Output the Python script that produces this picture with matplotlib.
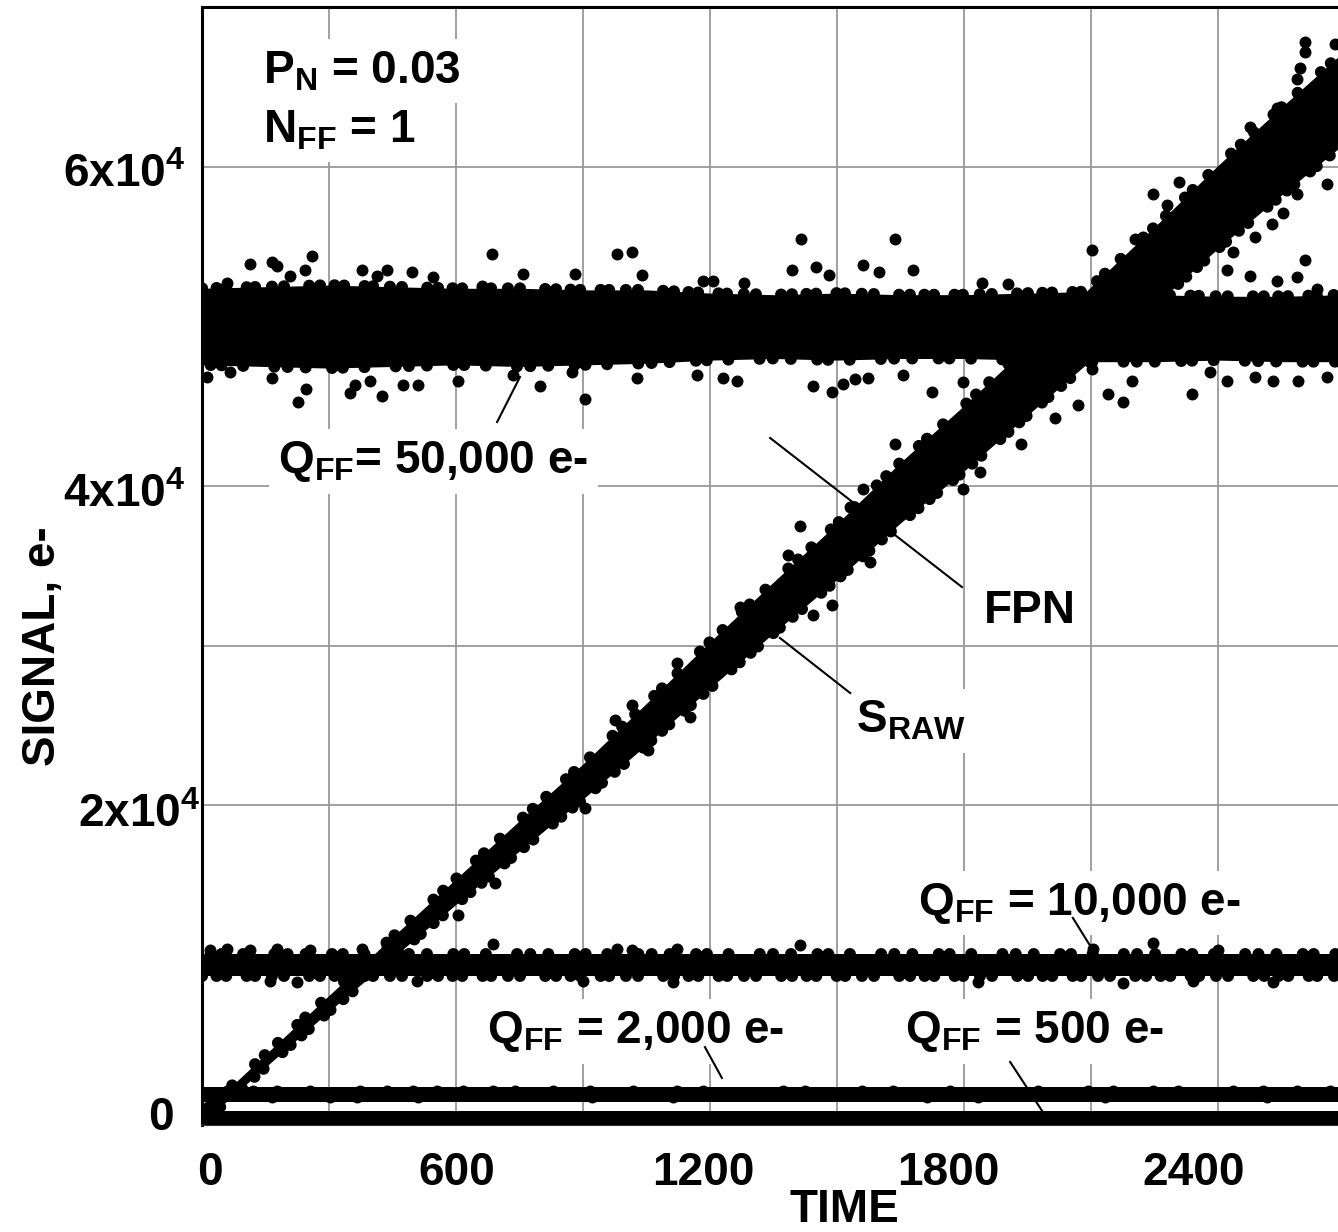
import matplotlib
matplotlib.use("Agg")
import matplotlib.pyplot as plt
import matplotlib.transforms as mtransforms
import numpy as np

plt.rcParams['font.family'] = ['Liberation Sans', 'DejaVu Sans']
plt.rcParams['font.weight'] = 'bold'
plt.rcParams['mathtext.fontset'] = 'custom'
plt.rcParams['mathtext.rm'] = 'Liberation Sans:bold'
plt.rcParams['mathtext.bf'] = 'Liberation Sans:bold'
plt.rcParams['mathtext.it'] = 'Liberation Sans:bold'

# ---- data (time, signal in e-) ----
# S_RAW band: centre and visual half-width of the dense core
t_raw = [0, 150, 300, 450, 600, 750, 900, 1050, 1200, 1350, 1500, 1650, 1800,
         1950, 2100, 2250, 2400, 2550, 2700]
raw_mid = [400, 4000, 7600, 11100, 14600, 18100, 21500, 25100, 28800, 32400,
           35900, 39600, 43000, 46600, 50200, 53800, 57500, 61000, 64400]
raw_half = [300, 400, 500, 650, 800, 950, 1100, 1300, 1450, 1600, 1750, 1900,
            2050, 2150, 2300, 2450, 2600, 2750, 2900]
raw_out_t = [1122, 1016, 976, 905, 692, 605, 1053, 1153, 496, 437, 1412, 1637,
             1562, 1797, 1838, 1934, 2015, 2069, 1578, 1488, 1443, 1271, 1384,
             1531, 2605, 2605, 2676, 2593, 2586, 2539, 2475, 2308, 2246, 2279,
             2204, 2102, 2553, 2527, 2487, 2657, 2586, 2435]
raw_out_v = [28920, 26290, 25350, 19840, 15140, 13140, 23460, 25530, 12700,
             11130, 37500, 42650, 39830, 39830, 40900, 42650, 44280, 45100,
             35250, 32550, 31930, 32430, 35690, 38700, 67830, 67200, 67700,
             66200, 65510, 63700, 62510, 59060, 58300, 57610, 55490, 54800,
             57120, 56430, 55610, 58930, 58300, 54670]

# Q_FF = 50,000 e- band
t_50k = [0, 150, 300, 450, 600, 750, 900, 1050, 1200, 1350, 1500, 1650, 1800,
         1950, 2100, 2250, 2400, 2550, 2700]
hi_50k = [52400, 52500, 52600, 52500, 52400, 52400, 52300, 52300, 52100, 52000,
          52100, 52000, 52000, 52100, 52200, 52000, 51900, 51900, 52000]
lo_50k = [47600, 47500, 47400, 47500, 47600, 47500, 47600, 47700, 47900, 48000,
          47900, 48000, 48000, 47900, 47800, 47800, 47900, 47800, 47800]
out50_t = [113, 165, 177, 260, 243, 208, 378, 437, 413, 496, 685, 758, 881, 980,
           1016, 1039, 59, 546, 661, 12, 227, 246, 165, 66, 350, 361, 425, 397,
           475, 510, 605, 798, 905, 874, 1027, 735, 1184, 1207, 1393, 1450,
           1481, 1562, 1600, 1680, 1280, 1842, 1904, 1415, 1637, 1169, 1231,
           1264, 1443, 1488, 1514, 1573, 1656, 1724, 1797, 2475, 2539, 2421,
           2586, 2605, 2633, 2338, 2421, 2487, 2530, 2589, 2657, 2381, 2175,
           2140, 2197, 2102, 1542]
out50_v = [53900, 54050, 53800, 54400, 53550, 53200, 53550, 53550, 53200, 53400,
           54550, 53300, 53300, 54550, 54700, 53250, 52700, 53100, 52550, 46850,
           45300, 46100, 46800, 47150, 45850, 46350, 45650, 46600, 46350, 46350,
           46600, 46300, 45450, 47150, 46800, 46950, 52850, 52850, 53550, 53750,
           53250, 53850, 53400, 53550, 52700, 52700, 52650, 55500, 55500, 46950,
           46800, 46600, 46300, 45900, 46400, 46800, 46950, 45900, 46500, 53200,
           52850, 53550, 53100, 54200, 52350, 45800, 46600, 46850, 46600, 46600,
           46850, 47150, 45250, 45800, 46600, 47350, 46700]

# Q_FF = 10,000 e- band
t_10k = [0, 2700]
hi_10k = [10700, 10700]
lo_10k = [9300, 9300]
out10_t = [19, 59, 113, 177, 255, 378, 980, 1016, 1122, 2105, 2400, 687, 1412,
           2246, 161, 224, 508, 900, 1113, 1833, 2175, 2341, 2530]
out10_v = [10950, 11000, 10950, 11000, 10950, 11000, 11000, 10950, 11000,
           11000, 10950, 11300, 11250, 11350, 9000, 8950, 9000, 9000, 8950,
           8950, 8850, 9000, 8950]

# Q_FF = 2,000 e- band
t_2k = [0, 2700]
hi_2k = [2330, 2330]
lo_2k = [1440, 1440]
out2_t = [59, 120, 177, 255, 373, 437, 498, 555, 617, 687, 739, 829, 916, 1018,
          1122, 1183, 1372, 1424, 1559, 1632, 1767, 1975, 2093, 2152, 2246,
          2305, 2435, 2506, 2586, 2664, 165, 302, 366, 510, 921, 1113, 1712,
          1833, 2133, 2516]
out2_v = [2080] * 30 + [1700] * 10

# Q_FF = 500 e- band
t_500 = [0, 2700]
hi_500 = [820, 820]
lo_500 = [0, 0]

fig = plt.figure(figsize=(13.38, 12.32), dpi=100)
ax = fig.add_axes([0.151, 0.0872, 0.9492, 0.9068])

dot = dict(marker='o', linestyle='none', color='black', markersize=8.6,
           markeredgewidth=0, zorder=3)
# ragged band edges: a string of round dots along each edge
beads = dict(color='black', lw=8.6, dash_capstyle='round', zorder=3,
             linestyle=(0, (0.01, 1.2, 0.01, 0.8, 0.01, 1.7, 0.01, 0.7,
                            0.01, 1.4, 0.01, 1.0, 0.01, 2.1, 0.01, 0.9)))
beads_b = dict(beads, linestyle=(3, (0.01, 1.5, 0.01, 2.2, 0.01, 0.9, 0.01, 1.8,
                                     0.01, 2.6, 0.01, 1.1)))

ax.fill_between(t_500, lo_500, hi_500, color='black', lw=0, zorder=3)
ax.fill_between(t_2k, lo_2k, hi_2k, color='black', lw=0, zorder=3)
ax.plot(out2_t, out2_v, **dot)

ax.fill_between(t_10k, lo_10k, hi_10k, color='black', lw=0, zorder=3)
ax.plot(t_10k, hi_10k, **beads_b)
ax.plot(t_10k, lo_10k, **beads)
ax.plot(out10_t, out10_v, **dot)

ax.fill_between(t_50k, lo_50k, hi_50k, color='black', lw=0, zorder=3)
ax.plot(t_50k, hi_50k, **beads)
ax.plot(t_50k, lo_50k, **beads_b)
ax.plot(out50_t, out50_v, **dot)

mid = np.array(raw_mid)
half = np.array(raw_half)
ax.fill_between(t_raw, mid - half, mid + half, color='black', lw=0, zorder=3)
ax.plot(t_raw, mid + half, **beads_b)
ax.plot(t_raw, mid - half, **beads)
ax.plot(raw_out_t, raw_out_v, **dot)

# leader lines (under the dots)
leaders = [((1795, 33680), (1342, 43020)),
           ((1531, 27040), (1365, 30490)),
           ((697, 44020), (751, 46840)),
           ((2057, 12950), (2104, 10940)),
           ((1188, 4850), (1228, 2920)),
           ((1909, 3920), (1986, 790))]
for (x1, y1), (x2, y2) in leaders:
    ax.plot([x1, x2], [y1, y2], color='black', lw=1.5, zorder=2.5)

box = dict(facecolor='white', edgecolor='none', pad=7)
fs = 33
labels = [(144, 65260, 'P$_\\mathbf{N}$ = 0.03'),
          (144, 61560, 'N$_\\mathbf{FF}$ = 1'),
          (180, 40820, 'Q$_\\mathbf{FF}$= 50,000 e-'),
          (1847, 31430, 'FPN'),
          (1545, 24540, 'S$_\\mathbf{RAW}$'),
          (1691, 13140, 'Q$_\\mathbf{FF}$ = 10,000 e-'),
          (673, 5110, 'Q$_\\mathbf{FF}$ = 2,000 e-'),
          (1660, 5110, 'Q$_\\mathbf{FF}$ = 500 e-')]
for x, y, s in labels:
    ax.text(x, y, s, fontsize=fs, fontweight='bold', ha='left', va='baseline',
            bbox=box, zorder=2)

ax.set_xlim(0, 3000)
ax.set_ylim(0, 70000)
xt = list(range(0, 3001, 300))
ax.set_xticks(xt)
ax.set_xticklabels([str(v) if v % 600 == 0 and v < 3000 else '' for v in xt])
yt = list(range(0, 70001, 10000))
ylab = {0: '0', 20000: '2x10$^\\mathbf{4}$', 40000: '4x10$^\\mathbf{4}$',
        60000: '6x10$^\\mathbf{4}$'}
ax.set_yticks(yt)
ax.set_yticklabels([ylab.get(v, '') for v in yt])
ax.tick_params(length=0, labelsize=fs)
ax.tick_params(axis='x', pad=19)
ax.tick_params(axis='y', pad=12)
ax.grid(True, color='#999999', lw=1.3)
ax.set_axisbelow(True)

# nudge tick labels to where they sit in the original
xoff = {0: 8, 600: 1, 1200: -7, 1800: -16, 2400: -24}
for v, lab in zip(xt, ax.get_xticklabels()):
    if v in xoff:
        lab.set_transform(lab.get_transform() + mtransforms.ScaledTranslation(
            xoff[v] / 100, 0, fig.dpi_scale_trans))
yoff = {0: (-12, 12), 20000: (15, -5), 40000: (0, -4), 60000: (0, -3)}
for v, lab in zip(yt, ax.get_yticklabels()):
    if v in yoff:
        dx, dy = yoff[v]
        lab.set_transform(lab.get_transform() + mtransforms.ScaledTranslation(
            dx / 100, dy / 100, fig.dpi_scale_trans))

ax.set_xlabel('TIME', fontsize=fs, fontweight='bold')
ax.xaxis.set_label_coords(0.506, -0.0565)
ax.set_ylabel('SIGNAL, e-', fontsize=fs, fontweight='bold')
ax.yaxis.set_label_coords(-0.108, 0.428)

for side in ['left', 'top']:
    ax.spines[side].set_linewidth(2.2)
ax.spines['bottom'].set_linewidth(1.5)
ax.spines['bottom'].set_color('#333333')

fig.savefig('out.png', dpi=100)
